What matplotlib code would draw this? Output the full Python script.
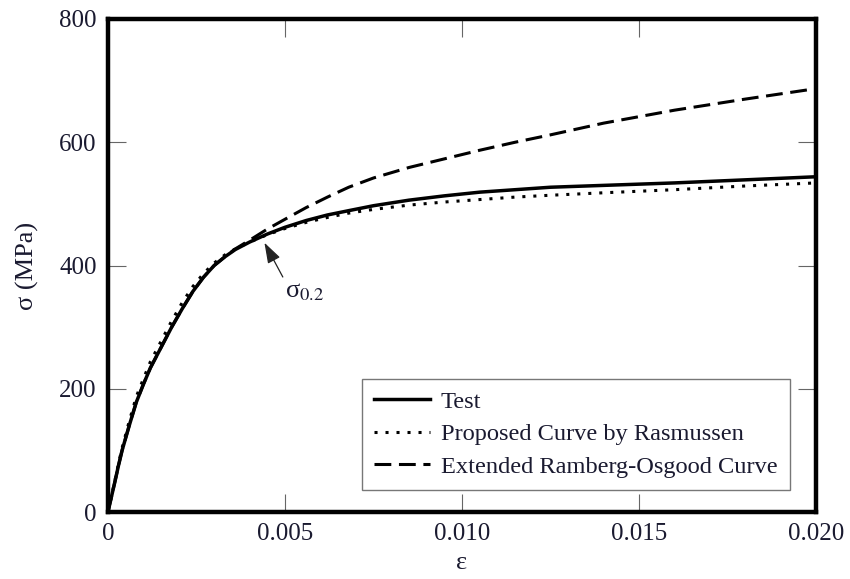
import numpy as np
import matplotlib.pyplot as plt

plt.rcParams['font.family'] = ['Liberation Serif', 'DejaVu Serif']
plt.rcParams['mathtext.fontset'] = 'stix'

# strain values
eps = [0, 0.0001, 0.0002, 0.0003, 0.0004, 0.0006, 0.0008, 0.001, 0.0012, 0.0015,
       0.0018, 0.0021, 0.0024, 0.0027, 0.003, 0.0033, 0.0036, 0.004, 0.0045, 0.005,
       0.0056, 0.0062, 0.0068, 0.0075, 0.0085, 0.0095, 0.0105, 0.0115, 0.0125,
       0.014, 0.016, 0.018, 0.020]

# stress (MPa)
sig_test = [0, 25, 50, 76, 100, 140, 178, 207, 234, 267,
            300, 330, 358, 381, 400, 414, 426, 438, 451, 462,
            473, 482, 489, 497, 506, 513, 519, 523, 527,
            530, 534, 539, 544]
sig_rasm = [0, 26, 52, 79, 104, 147, 187, 216, 244, 277,
            310, 340, 366, 387, 404, 417, 427, 438, 450, 460,
            470, 478, 485, 491, 498, 503, 507, 511, 514,
            518, 523, 529, 534]
sig_ro = [0, 25, 50, 76, 100, 140, 178, 207, 234, 267,
          300, 330, 358, 381, 400, 414, 427, 441, 459, 475,
          494, 511, 527, 542, 559, 573, 587, 600, 612,
          631, 652, 670, 687]

xticks = [0, 0.005, 0.010, 0.015, 0.020]
xticklabels = ['0', '0.005', '0.010', '0.015', '0.020']
yticks = [0, 200, 400, 600, 800]

txt_col = '#1a1a30'

fig = plt.figure(figsize=(8.5, 5.79), dpi=100)
ax = fig.add_axes([0.127, 0.1157, 0.833, 0.8515])

ax.plot(eps, sig_test, 'k-', lw=2.5, label='Test')
ax.plot(eps, sig_rasm, 'k', ls=(0, (1, 2.6)), lw=2.2, label='Proposed Curve by Rasmussen')
ax.plot(eps, sig_ro, 'k', ls=(0, (5.5, 2.5)), lw=2.2, label='Extended Ramberg-Osgood Curve')

ax.annotate(r'σ$_{0.2}$', xy=(0.00442, 437), xytext=(0.0050, 357),
            fontsize=19, ha='left', va='center', color=txt_col,
            arrowprops=dict(arrowstyle='-|>,head_length=0.45,head_width=0.15',
                            color='#222222', lw=0.9, mutation_scale=28,
                            relpos=(0.0, 1.0), shrinkA=1, shrinkB=0))

ax.set_xlim(0, 0.020)
ax.set_ylim(0, 800)
ax.set_xticks(xticks)
ax.set_xticklabels(xticklabels)
ax.set_yticks(yticks)
ax.tick_params(direction='in', length=13, width=0.8, color='#666666',
               labelsize=18, labelcolor=txt_col, top=True, right=True, pad=8)
for s in ax.spines.values():
    s.set_linewidth(3.2)
ax.set_xlabel('ε', fontsize=19, color=txt_col, labelpad=5)
ax.set_ylabel('σ (MPa)', fontsize=19, color=txt_col, labelpad=15)

leg = ax.legend(loc='lower right', bbox_to_anchor=(0.963, 0.045), borderaxespad=0,
                fontsize=17.6, fancybox=False, edgecolor='#555555', handlelength=2.3,
                labelspacing=0.42, borderpad=0.5, handletextpad=0.45)
leg.get_frame().set_linewidth(1.0)
for t in leg.get_texts():
    t.set_color(txt_col)

fig.savefig('out.png', dpi=100)
